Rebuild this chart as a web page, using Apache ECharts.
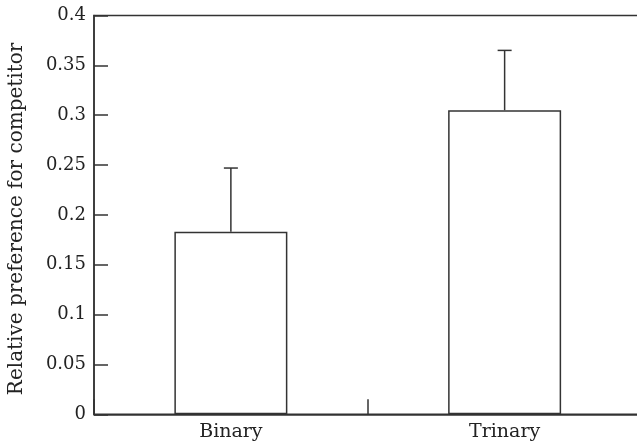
<!DOCTYPE html>
<html>
<head>
<meta charset="utf-8">
<script src="https://cdn.jsdelivr.net/npm/echarts@6/dist/echarts.min.js"></script>
<style>
html,body{margin:0;padding:0;background:#fff;}
#chart{width:637px;height:445px;}
</style>
</head>
<body>
<div id="chart"></div>
<script>
var categories = ['Binary', 'Trinary'];
var means = [0.183, 0.305];
var errorUpper = [0.247, 0.365];
var yAxisTitle = 'Relative preference for competitor';

var FONT = 'DejaVu Serif';
var INK = '#333';

var chart = echarts.init(document.getElementById('chart'), null, {renderer: 'canvas'});

var errData = categories.map(function (c, i) { return [i, means[i], errorUpper[i]]; });

chart.setOption({
  animation: false,
  backgroundColor: '#fff',
  grid: {
    left: 94, top: 15.5, bottom: 30.7, right: -4.5,
    outerBoundsMode: 'none',
    containLabel: false,
    show: true, borderColor: INK, borderWidth: 1.5, backgroundColor: 'transparent'
  },
  xAxis: {
    type: 'category',
    data: categories,
    boundaryGap: true,
    axisLine: {lineStyle: {color: INK, width: 1.5}},
    axisTick: {show: true, inside: true, length: 15, lineStyle: {color: INK, width: 1.5}},
    axisLabel: {color: '#222', fontFamily: FONT, fontSize: 19, margin: 8}
  },
  yAxis: {
    type: 'value',
    min: 0, max: 0.4, interval: 0.05,
    name: yAxisTitle,
    nameLocation: 'middle',
    nameRotate: 90,
    nameGap: 67,
    nameTextStyle: {color: '#222', fontFamily: FONT, fontSize: 20, padding: [0, 8, 0, 0]},
    splitLine: {show: false},
    axisLine: {show: true, lineStyle: {color: INK, width: 1.5}},
    axisTick: {show: true, inside: true, length: 14, lineStyle: {color: INK, width: 1.5}},
    axisLabel: {color: '#222', fontFamily: FONT, fontSize: 18, margin: 8}
  },
  series: [
    {
      type: 'bar',
      data: means,
      barWidth: 113,
      itemStyle: {color: '#fff', borderColor: INK, borderWidth: 1.5},
      z: 2
    },
    {
      type: 'custom',
      data: errData,
      z: 3,
      renderItem: function (params, api) {
        var x = api.value(0);
        var lo = api.coord([x, api.value(1)]);
        var hi = api.coord([x, api.value(2)]);
        var half = 7;
        var st = {stroke: INK, lineWidth: 1.5, fill: null};
        return {
          type: 'group',
          children: [
            {type: 'line', shape: {x1: lo[0], y1: lo[1], x2: hi[0], y2: hi[1]}, style: st},
            {type: 'line', shape: {x1: hi[0] - half, y1: hi[1], x2: hi[0] + half, y2: hi[1]}, style: st}
          ]
        };
      }
    }
  ]
});
</script>
</body>
</html>
